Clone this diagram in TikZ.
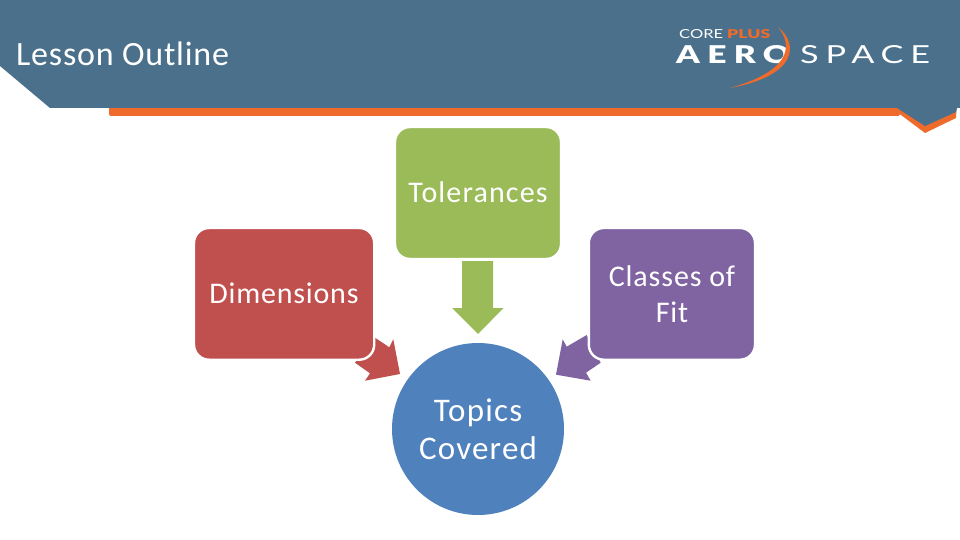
\documentclass[tikz,border=0pt]{standalone}
\usepackage{fontspec}
\setmainfont{Carlito}
\newfontfamily\logobold{Lato}[UprightFont=* Black]
\newfontfamily\logolight{Lato}
\definecolor{hdr}{HTML}{4A708B}
\definecolor{org}{HTML}{EE6B2B}
\definecolor{grn}{HTML}{9BBB59}
\definecolor{rd}{HTML}{C0504D}
\definecolor{pur}{HTML}{8064A2}
\definecolor{blu}{HTML}{4F81BD}
\tikzset{
 x=1pt,y=-1pt,
 box/.style={draw=white,line width=2.4pt,rounded corners=15pt},
 lbl/.style={text=white,align=center,inner sep=0pt},
 circ/.style={circle,fill=blu,text=white,align=center,inner sep=0pt,minimum size=172pt},
 ttl/.style={text=white,inner sep=0pt,anchor=west},
 logoa/.style={text=white,inner sep=0pt,anchor=north west},
}
\begin{document}
\begin{tikzpicture}
\useasboundingbox (0,0) rectangle (960,540);
\fill[white] (0,0) rectangle (960,540);
% header
\fill[org,rounded corners=2pt] (109,100) -- (109,116) -- (900,116) -- (900,100) -- cycle;
\fill[org] (897,100) -- (897,112) -- (925,133) -- (956,118) -- (957,100) -- cycle;
\fill[hdr] (0,0) -- (960,0) -- (960,108) -- (957,108) -- (956,112) -- (925,126) -- (897,108) -- (50,108) -- (0,66) -- cycle;
\node[ttl,font={\fontsize{34}{40}\selectfont\addfontfeature{LetterSpace=2.3}}] (title) at (16,54) {Lesson Outline};
% logo
\node[logoa] (core) at (679,29) {\resizebox{44pt}{9pt}{\logolight CORE}};
\node[logoa,text=org] (plus) at (727,29) {\resizebox{43pt}{9pt}{\logobold PLUS}};
\node[logoa] (aero) at (676,45) {\resizebox{114pt}{18pt}{\logobold\addfontfeature{LetterSpace=22}AERO}};
\node[logoa] (space) at (800,45) {\resizebox{130pt}{18pt}{\logolight\addfontfeature{LetterSpace=20}SPACE}};
\draw[hdr,line width=3.5pt] (778,28) .. controls (800,45) and (795,75) .. (730,88);
\fill[org] (778,27) .. controls (800,45) and (796,76) .. (730,88) .. controls (787,72) and (795,48) .. cycle;
% arrows
\fill[grn] (462,261) -- (493,261) -- (493,308) -- (503.5,308) -- (478,334) -- (452,308) -- (462,308) -- cycle;
\fill[rd] (400,374) -- (393.3,339.3) -- (389.3,347.3) -- (374,337) -- (355,362.7) -- (370,373.3) -- (365,380.7) -- cycle;
\fill[pur] (556,374.7) -- (562.7,339.3) -- (566.7,346.7) -- (586.7,335) -- (600.7,362.7) -- (586,372.7) -- (590.7,380.7) -- cycle;
% boxes
\draw[box,fill=grn] (395,127) rectangle (561,259);
\draw[box,fill=rd] (194,228) rectangle (374.2,359.7);
\draw[box,fill=pur] (588.8,228) rectangle (755,359.7);
\node[lbl,font={\fontsize{30}{36}\selectfont\addfontfeature{LetterSpace=3.8}}] (tol) at (478,192) {Tolerances};
\node[lbl,font={\fontsize{30}{36}\selectfont\addfontfeature{LetterSpace=2.7}}] (dim) at (284,293) {Dimensions};
\node[lbl,font={\fontsize{30}{36}\selectfont\addfontfeature{LetterSpace=3}}] (cls) at (672,294) {Classes of\\Fit};
\node[circ,font={\fontsize{33}{38}\selectfont\addfontfeature{LetterSpace=3.7}}] (top) at (478,429) {Topics\\Covered};
\end{tikzpicture}
\end{document}
